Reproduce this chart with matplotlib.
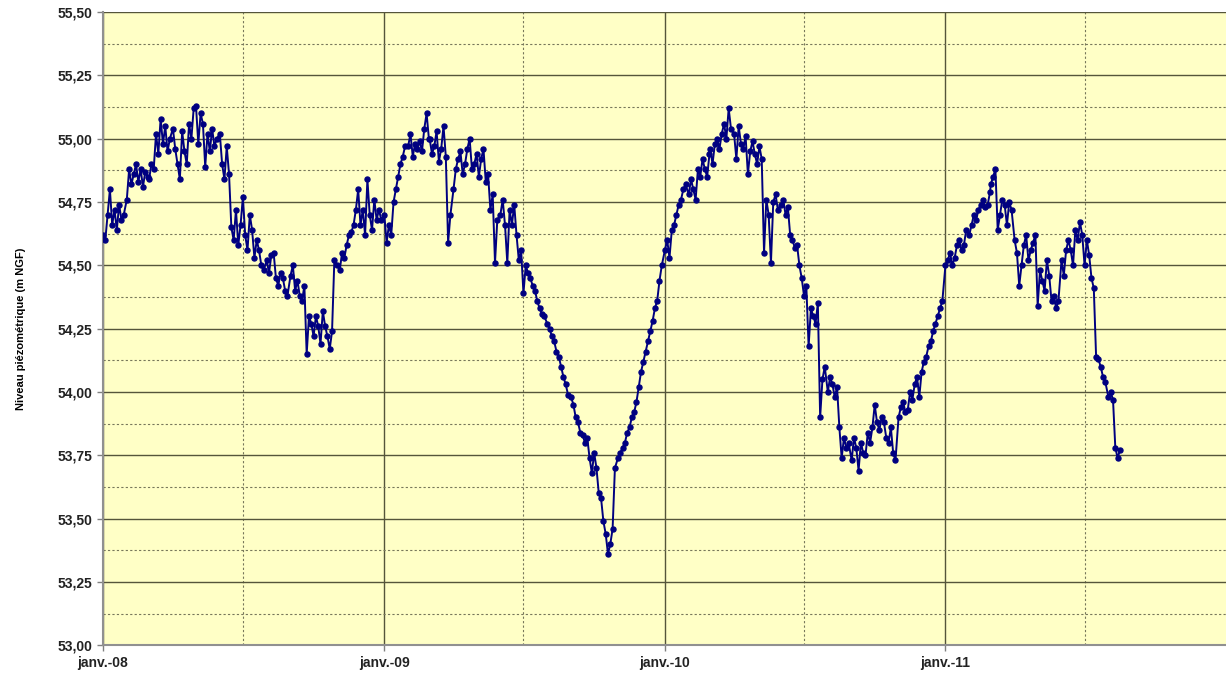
# -*- coding: utf-8 -*-

import pandas as pd
import matplotlib
matplotlib.use('Agg')
import matplotlib.pyplot as plt
import matplotlib.dates as mdates
from matplotlib.ticker import FixedLocator, FuncFormatter

plt.rcParams['font.family'] = ['Liberation Sans', 'DejaVu Sans']

# months (first day) and readings taken every 3 days inside each month
months = pd.date_range('2008-01-01', '2011-08-01', freq='MS')
sample_days = [0, 3, 6, 9, 12, 15, 18, 21, 24, 27]

levels = [
    # 2008
    [54.62, 54.60, 54.70, 54.80, 54.66, 54.72, 54.64, 54.74, 54.68, 54.70],
    [54.76, 54.88, 54.82, 54.86, 54.90, 54.83, 54.88, 54.81, 54.87, 54.85],
    [54.84, 54.90, 54.88, 55.02, 54.94, 55.08, 54.98, 55.05, 54.95, 55.00],
    [55.04, 54.96, 54.90, 54.84, 55.03, 54.95, 54.90, 55.06, 55.00, 55.12],
    [55.13, 54.98, 55.10, 55.06, 54.89, 55.02, 54.95, 55.04, 54.97, 55.00],
    [55.02, 54.90, 54.84, 54.97, 54.86, 54.65, 54.60, 54.72, 54.58, 54.66],
    [54.77, 54.62, 54.56, 54.70, 54.64, 54.53, 54.60, 54.56, 54.50, 54.48],
    [54.52, 54.47, 54.54, 54.55, 54.45, 54.42, 54.47, 54.45, 54.40, 54.38],
    [54.46, 54.50, 54.40, 54.44, 54.38, 54.36, 54.42, 54.15, 54.30, 54.27],
    [54.22, 54.30, 54.26, 54.19, 54.32, 54.26, 54.22, 54.17, 54.24, 54.52],
    [54.50, 54.48, 54.55, 54.53, 54.58, 54.62, 54.63, 54.66, 54.72, 54.80],
    [54.66, 54.72, 54.62, 54.84, 54.70, 54.64, 54.76, 54.68, 54.72, 54.68],
    # 2009
    [54.70, 54.59, 54.66, 54.62, 54.75, 54.80, 54.85, 54.90, 54.93, 54.97],
    [54.97, 55.02, 54.93, 54.98, 54.96, 54.99, 54.95, 55.04, 55.10, 55.00],
    [55.00, 54.94, 54.97, 55.03, 54.91, 54.96, 55.05, 54.93, 54.59, 54.70],
    [54.80, 54.88, 54.92, 54.95, 54.86, 54.90, 54.96, 55.00, 54.88, 54.90],
    [54.94, 54.85, 54.92, 54.96, 54.83, 54.86, 54.72, 54.78, 54.51, 54.68],
    [54.70, 54.76, 54.66, 54.51, 54.72, 54.66, 54.74, 54.62, 54.52, 54.56],
    [54.39, 54.50, 54.47, 54.45, 54.42, 54.40, 54.36, 54.33, 54.31, 54.30],
    [54.27, 54.25, 54.22, 54.20, 54.16, 54.14, 54.10, 54.06, 54.03, 53.99],
    [53.98, 53.95, 53.90, 53.88, 53.84, 53.83, 53.80, 53.82, 53.74, 53.68],
    [53.76, 53.70, 53.60, 53.58, 53.49, 53.44, 53.36, 53.40, 53.46, 53.70],
    [53.74, 53.76, 53.78, 53.80, 53.84, 53.86, 53.90, 53.92, 53.96, 54.02],
    [54.08, 54.12, 54.16, 54.20, 54.24, 54.28, 54.33, 54.36, 54.44, 54.50],
    # 2010
    [54.56, 54.60, 54.53, 54.64, 54.66, 54.70, 54.74, 54.76, 54.80, 54.82],
    [54.78, 54.84, 54.80, 54.76, 54.88, 54.85, 54.92, 54.88, 54.85, 54.94],
    [54.96, 54.90, 54.98, 55.00, 54.96, 55.02, 55.06, 55.00, 55.12, 55.04],
    [55.02, 54.92, 55.05, 54.98, 54.96, 55.01, 54.86, 54.95, 54.99, 54.94],
    [54.90, 54.97, 54.92, 54.55, 54.76, 54.70, 54.51, 54.75, 54.78, 54.72],
    [54.74, 54.76, 54.70, 54.73, 54.62, 54.60, 54.57, 54.58, 54.50, 54.45],
    [54.38, 54.42, 54.18, 54.33, 54.30, 54.27, 54.35, 53.90, 54.05, 54.10],
    [54.00, 54.06, 54.03, 53.98, 54.02, 53.86, 53.74, 53.82, 53.78, 53.80],
    [53.73, 53.82, 53.78, 53.69, 53.80, 53.76, 53.75, 53.84, 53.80, 53.86],
    [53.95, 53.88, 53.85, 53.90, 53.88, 53.82, 53.80, 53.86, 53.76, 53.73],
    [53.90, 53.94, 53.96, 53.92, 53.93, 54.00, 53.97, 54.03, 54.06, 53.98],
    [54.08, 54.12, 54.14, 54.18, 54.20, 54.24, 54.27, 54.30, 54.33, 54.36],
    # 2011
    [54.50, 54.52, 54.55, 54.50, 54.53, 54.58, 54.60, 54.56, 54.58, 54.64],
    [54.62, 54.66, 54.70, 54.68, 54.72, 54.74, 54.76, 54.73, 54.74, 54.79],
    [54.82, 54.85, 54.88, 54.64, 54.70, 54.76, 54.74, 54.66, 54.75, 54.72],
    [54.60, 54.55, 54.42, 54.50, 54.58, 54.62, 54.52, 54.56, 54.59, 54.62],
    [54.34, 54.48, 54.44, 54.40, 54.52, 54.46, 54.36, 54.38, 54.33, 54.36],
    [54.52, 54.46, 54.56, 54.60, 54.56, 54.50, 54.64, 54.60, 54.67, 54.62],
    [54.50, 54.60, 54.54, 54.45, 54.41, 54.14, 54.13, 54.10, 54.06, 54.04],
    [53.98, 54.00, 53.97, 53.78, 53.74, 53.77],
]

dates = []
values = []
for m, vals in zip(months, levels):
    for d, v in zip(sample_days, vals):
        dates.append(m + pd.Timedelta(days=d))
        values.append(v)
serie = pd.Series(values, index=pd.DatetimeIndex(dates))

y_major = [53.00 + 0.25 * i for i in range(11)]
y_minor = [53.125 + 0.25 * i for i in range(10)]
x_labels = ['2008-01-01', '2009-01-01', '2010-01-01', '2011-01-01']
x_minor = ['2008-07-01', '2009-07-01', '2010-07-01', '2011-07-01']

fig = plt.figure(figsize=(12.26, 6.75), dpi=100)
ax = fig.add_axes([0.084, 0.044, 0.916, 0.938])
ax.set_facecolor('#FFFFC6')

ax.plot(serie.index, serie.values, color='#000080', lw=1.4,
        marker='o', ms=3.6, zorder=3)

ax.set_ylim(53.0, 55.5)
ax.set_xlim(pd.Timestamp('2008-01-01'), pd.Timestamp('2012-01-01'))

ax.yaxis.set_major_locator(FixedLocator(y_major))
ax.yaxis.set_minor_locator(FixedLocator(y_minor))
ax.yaxis.set_major_formatter(FuncFormatter(lambda v, p: ('%.2f' % v).replace('.', ',')))

ax.xaxis.set_major_locator(FixedLocator([mdates.date2num(pd.Timestamp(d)) for d in x_labels]))
ax.xaxis.set_minor_locator(FixedLocator([mdates.date2num(pd.Timestamp(d)) for d in x_minor]))
ax.xaxis.set_major_formatter(FuncFormatter(lambda v, p: 'janv.-' + mdates.num2date(v).strftime('%y')))

ax.grid(which='major', axis='both', color='#55553a', lw=1.0, ls='-')
ax.grid(which='minor', axis='both', color='#77775a', lw=0.8, ls=(0, (2, 2)))
ax.set_axisbelow(True)

ax.tick_params(which='major', length=4, width=1, color='#808080', labelsize=10)
ax.tick_params(which='minor', length=0)
for lab in ax.get_xticklabels() + ax.get_yticklabels():
    lab.set_fontweight('bold')
    lab.set_color('#222222')

for s in ['top', 'right']:
    ax.spines[s].set_visible(False)
ax.spines['left'].set_color('#909090')
ax.spines['bottom'].set_color('#909090')
ax.spines['left'].set_linewidth(1.5)
ax.spines['bottom'].set_linewidth(1.5)

ax.set_ylabel(u'Niveau piézométrique (m NGF)', fontsize=8, fontweight='bold', labelpad=23)

fig.savefig('out.png', dpi=100)
